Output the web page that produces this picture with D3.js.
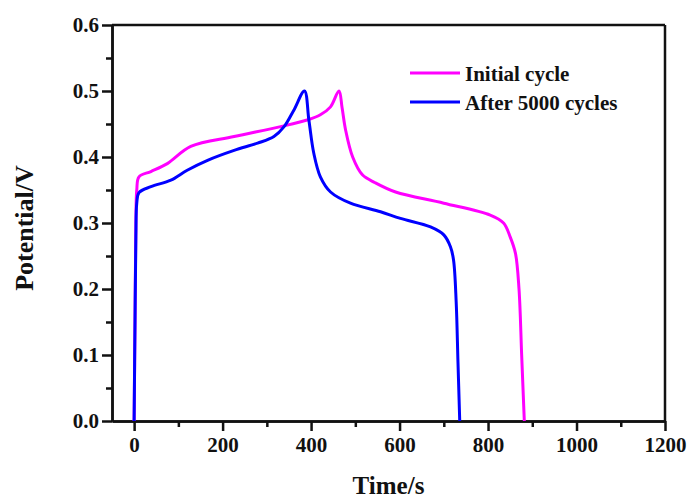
<!DOCTYPE html>
<html>
<head>
<meta charset="utf-8">
<script src="https://cdn.jsdelivr.net/npm/d3@7/dist/d3.min.js"></script>
<style>
  html, body { margin: 0; padding: 0; background: #fff; }
  text { font-family: "Liberation Serif", "Times New Roman", serif; font-weight: bold; fill: #111; }
</style>
</head>
<body>
<svg id="chart" width="692" height="501"></svg>
<script>
const initialTime = [0, 2, 4, 6, 11, 38, 75, 128, 226, 331, 391, 421, 444, 463, 470, 478, 494, 516, 545, 591, 700, 805, 835, 850, 862, 870, 876, 882];
const initialPotential = [0, 0.15, 0.30, 0.35, 0.370, 0.378, 0.390, 0.416, 0.431, 0.446, 0.456, 0.464, 0.476, 0.500, 0.475, 0.441, 0.400, 0.373, 0.361, 0.347, 0.330, 0.312, 0.300, 0.279, 0.254, 0.20, 0.10, 0];
const afterTime = [0, 2, 4, 6, 11, 38, 83, 120, 166, 226, 279, 316, 339, 361, 385, 395, 406, 421, 444, 489, 557, 602, 670, 700, 715, 722, 728, 732, 736];
const afterPotential = [0, 0.15, 0.28, 0.33, 0.346, 0.355, 0.365, 0.380, 0.395, 0.410, 0.421, 0.431, 0.446, 0.471, 0.500, 0.456, 0.406, 0.370, 0.347, 0.330, 0.317, 0.307, 0.294, 0.282, 0.264, 0.244, 0.18, 0.09, 0];
const seriesNames = ["Initial cycle", "After 5000 cycles"];
const seriesColors = ["#ff00ff", "#0000ff"];
const xTicks = [0, 200, 400, 600, 800, 1000, 1200];
const yTicks = [0.0, 0.1, 0.2, 0.3, 0.4, 0.5, 0.6];
const xTitle = "Time/s";
const yTitle = "Potential/V";

const W = 692, H = 501;
const m = { left: 112, right: 27, top: 25, bottom: 80 };
const svg = d3.select("#chart");

const x = d3.scaleLinear().domain([-50, 1200]).range([m.left, W - m.right]);
const y = d3.scaleLinear().domain([0, 0.6]).range([H - m.bottom, m.top]);

const g = svg.append("g");

const xMinor = d3.range(100, 1201, 200);
const yMinor = d3.range(0.05, 0.6, 0.1);

g.append("g").attr("transform", `translate(0,${y(0)})`)
  .call(d3.axisBottom(x).tickValues(xTicks).tickFormat(d3.format("d")).tickSize(10).tickPadding(6).tickSizeOuter(0));
g.append("g").attr("transform", `translate(${x(-50)},0)`)
  .call(d3.axisLeft(y).tickValues(yTicks).tickFormat(d3.format(".1f")).tickSize(10).tickPadding(3).tickSizeOuter(0));
g.append("g").attr("transform", `translate(0,${y(0)})`)
  .call(d3.axisBottom(x).tickValues(xMinor).tickFormat("").tickSize(6).tickSizeOuter(0));
g.append("g").attr("transform", `translate(${x(-50)},0)`)
  .call(d3.axisLeft(y).tickValues(yMinor).tickFormat("").tickSize(6).tickSizeOuter(0));

svg.selectAll(".domain").attr("stroke", "#111").attr("stroke-width", 2.5);
svg.selectAll(".tick line").attr("stroke", "#111").attr("stroke-width", 2.5);
svg.selectAll(".tick text").style("font-size", "21px").attr("fill", "#111")
  .style("font-family", '"Liberation Serif", serif').style("font-weight", "bold");

g.append("line").attr("x1", x(-50)).attr("x2", x(1200)).attr("y1", y(0.6)).attr("y2", y(0.6))
  .attr("stroke", "#111").attr("stroke-width", 2.5);
g.append("line").attr("x1", x(1200)).attr("x2", x(1200)).attr("y1", y(0.6)).attr("y2", y(0))
  .attr("stroke", "#111").attr("stroke-width", 2.5);

const line = d3.line().x(d => x(d[0])).y(d => y(d[1])).curve(d3.curveCatmullRom.alpha(0.5));
const series = [
  d3.zip(initialTime, initialPotential),
  d3.zip(afterTime, afterPotential)
];
series.forEach((s, i) => {
  g.append("path").datum(s).attr("d", line).attr("fill", "none")
    .attr("stroke", seriesColors[i]).attr("stroke-width", 3).attr("stroke-linejoin", "round");
});

const legendY = [73, 102];
seriesNames.forEach((name, i) => {
  g.append("line").attr("x1", 410).attr("x2", 460).attr("y1", legendY[i]).attr("y2", legendY[i])
    .attr("stroke", seriesColors[i]).attr("stroke-width", 3);
  g.append("text").attr("x", 465).attr("y", legendY[i] + 7.5).style("font-size", "21px").text(name);
});

svg.append("text").attr("x", (x(-50) + x(1200)) / 2).attr("y", 494).attr("text-anchor", "middle")
  .style("font-size", "25px").text(xTitle);
svg.append("text").attr("transform", `translate(33,228) rotate(-90)`).attr("text-anchor", "middle")
  .style("font-size", "26px").text(yTitle);
</script>
</body>
</html>
